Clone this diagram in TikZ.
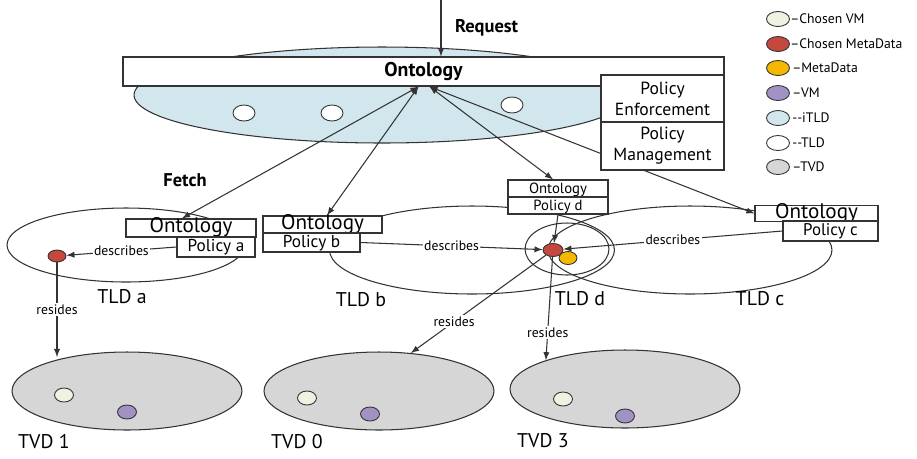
\documentclass[tikz,border=0pt]{standalone}
\usepackage{fontspec}
\setmainfont{PT Sans}
\usetikzlibrary{shapes.geometric}
\definecolor{itldblue}{RGB}{210,231,237}
\definecolor{tvdgray}{RGB}{214,214,214}
\definecolor{chosenred}{RGB}{196,72,62}
\definecolor{metayellow}{RGB}{244,184,0}
\definecolor{vmpurple}{RGB}{162,146,196}
\definecolor{chosencream}{RGB}{240,241,224}
\begin{document}
\begin{tikzpicture}[
x=0.02cm, y=-0.02cm,
>=latex,
line/.style={draw=black!80, line width=0.6pt},
box/.style={draw=black!80, line width=0.7pt, fill=white, inner sep=0pt, text height=1.4ex, text depth=0.35ex},
tld/.style={draw=black!80, line width=0.6pt, ellipse, inner sep=0pt},
blob/.style={draw=black!80, line width=0.5pt, ellipse, inner sep=0pt, minimum width=0.38cm, minimum height=0.28cm},
tvd/.style={tld, fill=tvdgray, minimum width=4.6cm, minimum height=1.56cm},
legend/.style={blob, minimum width=0.46cm, minimum height=0.3cm},
word/.style={font=\fontsize{7.8}{9}\selectfont, fill=white, inner sep=0.8pt},
legtext/.style={anchor=west, font=\fontsize{7.8}{9}\selectfont, inner sep=0pt},
title/.style={font=\fontsize{11.3}{13}\selectfont},
heading/.style={font=\bfseries\fontsize{10.5}{12}\selectfont},
]

\useasboundingbox (0,0) rectangle (917,458);

%itld
\node[tld, fill=itldblue, minimum width=9.92cm, minimum height=1.92cm] (itld) at (382,95) {};
\node[blob, fill=white, minimum width=0.44cm, minimum height=0.32cm] (tl1) at (244,113) {};
\node[blob, fill=white, minimum width=0.44cm, minimum height=0.32cm] (tl2) at (332,113) {};
\node[blob, fill=white, minimum width=0.44cm, minimum height=0.32cm] (tl3) at (512,105) {};

%tlds
\node[tld, minimum width=4.76cm, minimum height=1.48cm] (tlda) at (126,245) {};
\node[tld, minimum width=5.7cm, minimum height=1.76cm] (tldb) at (472,250) {};
\node[tld, minimum width=5.68cm, minimum height=1.76cm] (tldc) at (690,250) {};
\node[tld, minimum width=1.68cm, minimum height=1.04cm] (tldd) at (567,249) {};

\node[title] (tlda lbl) at (122,297) {TLD a};
\node[title] (tldb lbl) at (361,300) {TLD b};
\node[title] (tldd lbl) at (580,299) {TLD d};
\node[title] (tldc lbl) at (760,299) {TLD c};

%top boxes
\node[box, minimum width=12.02cm, minimum height=0.58cm, font=\bfseries\fontsize{11.3}{13}\selectfont] (bar) at (423.5,71.5) {Ontology};
\node[box, minimum width=2.46cm, minimum height=0.94cm, align=center, font=\fontsize{10}{12}\selectfont, text height=, text depth=] (polenf) at (662.5,98.5) {Policy\\Enforcement};

%tld boxes
\node[box, minimum width=2.6cm, minimum height=0.36cm, font=\fontsize{12}{13}\selectfont] (onta) at (191,228) {Ontology};
\node[box, minimum width=1.56cm, minimum height=0.40cm, font=\fontsize{9.8}{11}\selectfont] (pola) at (216,247) {Policy a};
\node[box, minimum width=2.38cm, minimum height=0.34cm, font=\fontsize{12}{13}\selectfont] (ontb) at (322.5,224.5) {Ontology};
\node[box, minimum width=1.94cm, minimum height=0.38cm, font=\fontsize{9.8}{11}\selectfont] (polb) at (311.5,242.5) {Policy b};
\node[box, minimum width=2.0cm, minimum height=0.34cm, font=\fontsize{8.4}{10}\selectfont] (ontd) at (558,188.5) {Ontology};
\node[box, minimum width=2.0cm, minimum height=0.34cm, font=\fontsize{8.4}{10}\selectfont] (pold) at (558,205.5) {Policy d};
\node[box, minimum width=2.46cm, minimum height=0.30cm, font=\fontsize{12}{13}\selectfont] (ontc) at (816.5,213.5) {Ontology};
\node[box, minimum width=1.9cm, minimum height=0.40cm, font=\fontsize{9.6}{11}\selectfont] (polc) at (830.5,231) {Policy c};

%request and fetch
\coordinate (req) at (441,0);
\path[line,->] (req) -- (req |- bar.north);
\node[heading, anchor=west] (reqlbl) at (449,28) {Request};
\node[heading] (fetch) at (185,180) {Fetch};

\path[line,<->] ([xshift=-0.1cm]bar.south) -- ([xshift=-0.18cm]onta.north);
\path[line,<->] ([xshift=-0.1cm]bar.south) -- ([xshift=0.09cm]ontb.north);
\path[line,<->] ([xshift=0.12cm]bar.south) -- ([xshift=-0.1cm]ontd.north);
\path[line,<->] ([xshift=0.12cm]bar.south) -- (ontc.west);

\node[box, minimum width=2.46cm, minimum height=0.96cm, align=center, font=\fontsize{10}{12}\selectfont, text height=, text depth=] (polman) at (662.5,146) {Policy\\Management};

%metadata
\node[blob, fill=chosenred, minimum width=0.36cm, minimum height=0.24cm] (metaa) at (57,256) {};
\node[blob, fill=chosenred, minimum width=0.4cm, minimum height=0.26cm] (metad) at (553,250) {};
\node[blob, fill=metayellow, minimum width=0.36cm, minimum height=0.26cm] (metay) at (568,258) {};

\path[line,->] (pola.west) -- node[word] (desc a) {describes} (metaa);
\path[line,->] (polb.east) -- node[word] (desc b) {describes} (metad);
\path[line,->] (polc.west) -- node[word] (desc c) {describes} (metad);
\path[line,->] (pold.south) -- (metad);

%tvds
\node[tvd] (tvd1) at (127,391) {};
\node[tvd] (tvd0) at (379,391) {};
\node[tvd] (tvd3) at (625,389) {};

\node[blob, fill=chosencream] (vm1a) at (64,395) {};
\node[blob, fill=vmpurple] (vm1b) at (127,412) {};
\node[blob, fill=chosencream] (vm0a) at (307,398) {};
\node[blob, fill=vmpurple] (vm0b) at (370,414) {};
\node[blob, fill=chosencream] (vm3a) at (563,399) {};
\node[blob, fill=vmpurple] (vm3b) at (625,416) {};

\node[title, anchor=west] (tvd1 lbl) at (12,442) {TVD 1};
\node[title, anchor=west] (tvd0 lbl) at (265,442) {TVD 0};
\node[title, anchor=west] (tvd3 lbl) at (511,441) {TVD 3};

\path[line,->] (metaa) -- node[word, pos=0.5] (res a) {resides} (metaa |- tvd1.150);
\path[line,->] (metad) -- node[word, pos=0.68] (res 0) {resides} (tvd0.50);
\path[line,->] (metad) -- node[word, pos=0.73] (res 3) {resides} (tvd3.160);

%legend
\node[legend, fill=chosencream] (leg1) at (778,19) {};
\node[legtext] (leg1 txt) at (790,19) {--Chosen VM};
\node[legend, fill=chosenred] (leg2) at (778,44) {};
\node[legtext] (leg2 txt) at (790,44) {--Chosen MetaData};
\node[legend, fill=metayellow] (leg3) at (778,68) {};
\node[legtext] (leg3 txt) at (792,68) {--MetaData};
\node[legend, fill=vmpurple] (leg4) at (778,93) {};
\node[legtext] (leg4 txt) at (792,93) {--VM};
\node[legend, fill=itldblue] (leg5) at (778,118) {};
\node[legtext] (leg5 txt) at (792,118) {-{}-iTLD};
\node[legend, fill=white] (leg6) at (778,143) {};
\node[legtext] (leg6 txt) at (792,143) {-{}-TLD};
\node[legend, fill=tvdgray] (leg7) at (778,167) {};
\node[legtext] (leg7 txt) at (792,167) {--TVD};

\end{tikzpicture}
\end{document}
